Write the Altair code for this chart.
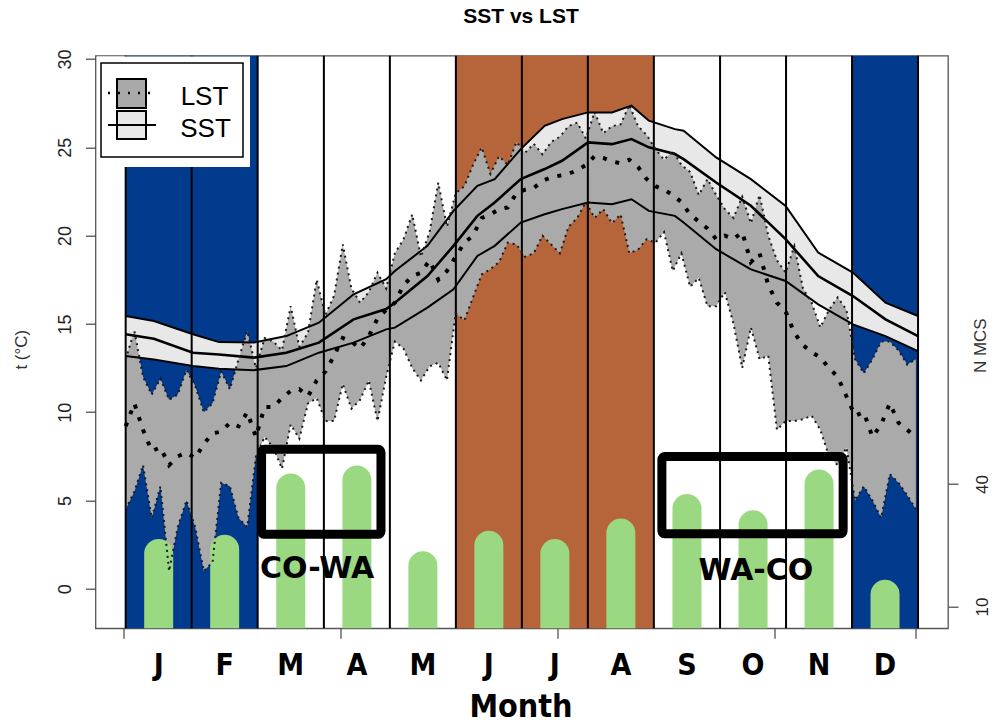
import altair as alt
import pandas as pd

# ---------------- data ----------------
month_labels = ["J", "F", "M", "A", "M", "J", "J", "A", "S", "O", "N", "D"]
month_edges = [1, 31.4, 61.8, 92.3, 122.7, 153.1, 183.5, 213.9, 244.3, 274.8, 305.2, 335.6, 366]
month_season = ["winter", "winter", "", "", "", "summer", "summer", "summer", "", "", "", "winter"]
n_mcs = [23, 24, 39, 41, 20, 25, 23, 28, 34, 30, 40, 13]

lst_day = list(range(1, 366, 4))
lst_upper = [13.0, 14.6, 12.0, 11.0, 11.9, 10.7, 11.0, 12.4, 11.5, 10.0,
             10.5, 12.3, 11.3, 13.0, 14.6, 12.5, 14.2, 14.0, 13.5, 16.0,
             13.7, 14.5, 17.5, 15.5, 16.6, 19.5, 17.0, 16.2, 16.8, 17.9,
             17.0, 19.0, 19.8, 21.2, 18.8, 20.2, 23.0, 20.5, 22.4, 22.8,
             24.0, 25.0, 23.5, 24.5, 24.0, 25.3, 24.7, 25.2, 24.6, 25.3,
             25.6, 26.2, 26.4, 25.5, 27.0, 25.8, 26.2, 26.3, 27.4, 26.2,
             25.7, 24.9, 24.3, 24.8, 24.0, 23.6, 22.3, 23.2, 22.3, 21.5,
             21.0, 22.2, 20.7, 22.3, 20.0, 18.6, 17.9, 19.4, 17.0, 16.2,
             14.8, 15.8, 16.5, 15.8, 13.0, 12.2, 13.0, 14.0, 14.0, 13.5,
             12.7, 13.0]
lst_mean = [9.2, 10.5, 9.0, 7.8, 8.0, 7.0, 7.5, 7.7, 7.4, 8.2,
            8.8, 8.9, 9.4, 9.2, 10.0, 8.6, 10.3, 10.3, 10.8, 11.2,
            11.3, 10.9, 11.8, 12.3, 13.2, 14.2, 14.0, 13.6, 14.3, 15.3,
            15.8, 16.2, 17.2, 17.7, 17.9, 18.6, 17.5, 18.0, 18.8, 19.6,
            20.0, 21.0, 21.2, 21.5, 21.6, 22.4, 22.6, 22.7, 23.1, 23.3,
            23.4, 23.5, 23.7, 24.0, 24.5, 24.4, 24.2, 24.1, 24.3, 23.9,
            23.2, 22.8, 22.6, 22.3, 21.9, 21.2, 20.8, 20.4, 19.8, 20.0,
            19.8, 20.2, 18.5, 19.0, 17.2, 16.2, 15.7, 14.5, 13.8, 13.4,
            13.1, 12.5, 12.0, 10.9, 9.8, 10.0, 8.6, 9.3, 10.5, 9.4,
            9.0, 8.6]
lst_lower = [4.5, 5.5, 7.0, 4.0, 5.8, 1.0, 3.5, 5.0, 3.5, 1.0,
             1.5, 6.0, 5.8, 4.0, 3.5, 7.5, 8.6, 8.0, 6.8, 9.3,
             8.5, 10.5, 10.8, 9.5, 9.5, 11.6, 10.2, 10.7, 11.8, 9.5,
             12.0, 14.0, 13.6, 12.5, 11.8, 12.6, 12.8, 11.8, 15.6, 15.2,
             16.5, 17.8, 18.1, 18.5, 19.6, 19.5, 18.8, 19.0, 20.0, 19.5,
             19.0, 20.5, 21.0, 21.9, 21.0, 21.5, 20.7, 21.2, 19.0, 19.2,
             19.8, 19.6, 20.2, 18.0, 19.0, 17.1, 17.6, 16.0, 16.0, 16.8,
             15.0, 12.5, 14.8, 13.0, 13.2, 9.0, 9.5, 9.5, 9.6, 9.8,
             9.0, 7.5, 7.0, 8.0, 5.0, 5.8, 5.0, 4.0, 6.5, 6.0,
             5.3, 4.5]

sst_day = [1, 14, 32, 44, 60, 75, 90, 106, 121, 125, 140, 152, 163, 171, 183,
           194, 202, 214, 225, 234, 242, 254, 258, 273, 289, 305, 320, 336, 351, 366]
sst_upper = [15.45, 15.16, 14.41, 13.97, 13.94, 14.31, 15.07, 16.68, 17.53, 18.0,
             19.42, 21.4, 22.82, 23.2, 24.9, 26.22, 26.6, 26.98, 26.98, 27.36,
             26.51, 26.03, 25.94, 24.43, 23.2, 21.68, 19.04, 17.91, 16.2, 15.45]
sst_mean = [14.41, 14.16, 13.37, 13.27, 13.09, 13.37, 13.94, 15.26, 15.84, 16.2,
            17.71, 19.42, 21.12, 21.88, 23.2, 23.77, 24.24, 25.28, 25.18, 25.47,
            25.0, 24.62, 24.33, 23.01, 21.69, 19.8, 17.71, 16.58, 15.26, 14.31]
sst_lower = [13.18, 12.99, 12.61, 12.46, 12.38, 12.61, 13.37, 13.94, 14.69, 14.79,
             15.92, 16.96, 18.85, 19.42, 20.74, 21.21, 21.5, 21.88, 21.78, 22.06,
             21.4, 21.12, 20.74, 19.23, 18.09, 17.43, 16.11, 14.97, 14.31, 13.46]

box_label = ["CO-WA", "WA-CO"]
box_day_start = [63.6, 248.0]
box_day_end = [118.6, 331.5]
box_t_low = [3.08, 3.11]
box_t_high = [7.9, 7.49]
box_text_day = [89.2, 291.3]
box_text_t = [0.61, 0.51]

# ---------------- styles ----------------
BLUE = "#023a8e"
BROWN = "#b6643a"
GREEN = "#9ad982"
LIGHT = "#e8e8e8"
GRAY = "#aaaaaa"

months = pd.DataFrame({
    "label": month_labels,
    "start": month_edges[:-1],
    "end": month_edges[1:],
    "season": month_season,
    "n": n_mcs,
})
months["mid"] = (months["start"] + months["end"]) / 2
bands = months[months["season"] != ""]
edges = pd.DataFrame({"day": month_edges})
lst = pd.DataFrame({"day": lst_day, "up": lst_upper, "mean": lst_mean, "lo": lst_lower})
sst = pd.DataFrame({"day": sst_day, "up": sst_upper, "mean": sst_mean, "lo": sst_lower})
boxes = pd.DataFrame({"label": box_label, "x1": box_day_start, "x2": box_day_end,
                      "t1": box_t_low, "t2": box_t_high,
                      "tx": box_text_day, "ty": box_text_t})

xs = alt.Scale(domain=[-12.9, 379.8], nice=False, zero=False)
ts = alt.Scale(domain=[-2.24, 30.19], nice=False, zero=False)
ns = alt.Scale(domain=[4.66, 144.9], nice=False, zero=False)

left_axis = alt.Axis(orient="left", values=[0, 5, 10, 15, 20, 25, 30], labelAngle=270,
                     labelAlign="center", labelBaseline="bottom", labelPadding=11, tickSize=10,
                     tickColor="#444", tickWidth=1.2, domain=False, grid=False, labelFontSize=18,
                     labelFont="Liberation Sans", labelColor="#222", title=None)
right_axis = alt.Axis(orient="right", values=[10, 40], labelAngle=270, labelAlign="center",
                      labelBaseline="top", labelPadding=16, tickSize=10, tickColor="#444",
                      tickWidth=1.2, domain=False, grid=False, labelFontSize=17,
                      labelFont="Liberation Sans", labelColor="#222", title=None)
bottom_axis = alt.Axis(orient="bottom", values=[0, 100, 200, 300, 365], labels=False, tickSize=10,
                       tickColor="#444", tickWidth=1.2, domain=False, grid=False, title=None)

def X(field):
    return alt.X(field, scale=xs, axis=bottom_axis)

def T(field, axis=None):
    return alt.Y(field, scale=ts, axis=axis)

# ----- back group: bands and filled envelopes -----
band_layer = alt.Chart(bands).mark_rect().encode(
    x=X("start:Q"), x2="end:Q",
    color=alt.Color("season:N", scale=alt.Scale(domain=["winter", "summer"], range=[BLUE, BROWN]),
                    legend=None))
sst_area = alt.Chart(sst).mark_area(color=LIGHT).encode(
    x=X("day:Q"), y=T("up:Q", left_axis), y2="lo:Q")
lst_area = alt.Chart(lst).mark_area(color=GRAY).encode(
    x=X("day:Q"), y=T("up:Q", left_axis), y2="lo:Q")
back = alt.layer(band_layer, sst_area, lst_area)

# ----- bars (N MCS, right axis) -----
bars = alt.Chart(months).mark_rule(strokeWidth=29, strokeCap="round", color=GREEN, clip=True).encode(
    x=X("mid:Q"), y=alt.Y("n:Q", scale=ns, axis=right_axis), y2=alt.datum(0))

# ----- front group -----
vlines = alt.Chart(edges).mark_rule(color="black", strokeWidth=2).encode(x=X("day:Q"))
sst_up_line = alt.Chart(sst).mark_line(color="black", strokeWidth=2).encode(x=X("day:Q"), y=T("up:Q"))
sst_lo_line = alt.Chart(sst).mark_line(color="black", strokeWidth=2).encode(x=X("day:Q"), y=T("lo:Q"))
sst_mean_line = alt.Chart(sst).mark_line(color="black", strokeWidth=2.6).encode(x=X("day:Q"), y=T("mean:Q"))
lst_up_line = alt.Chart(lst).mark_line(color="#1a1a1a", strokeWidth=2, strokeDash=[2, 4]).encode(
    x=X("day:Q"), y=T("up:Q"))
lst_lo_line = alt.Chart(lst).mark_line(color="#1a1a1a", strokeWidth=2, strokeDash=[2, 4]).encode(
    x=X("day:Q"), y=T("lo:Q"))
lst_mean_line = alt.Chart(lst).mark_line(color="black", strokeWidth=4, strokeDash=[4, 9]).encode(
    x=X("day:Q"), y=T("mean:Q"))
box_layer = alt.Chart(boxes).mark_rect(fillOpacity=0, stroke="black", strokeWidth=9, cornerRadius=3).encode(
    x=X("x1:Q"), x2="x2:Q", y=T("t1:Q"), y2="t2:Q")
box_text = alt.Chart(boxes).mark_text(font="DejaVu Sans", fontWeight="bold", fontSize=30,
                                      baseline="alphabetic", color="black").encode(
    x=X("tx:Q"), y=T("ty:Q"), text="label:N")
month_text = alt.Chart(months).mark_text(font="DejaVu Sans Condensed", fontWeight="bold", fontSize=30,
                                         baseline="alphabetic", color="black").encode(
    x=X("mid:Q"), y=alt.value(619), text="label:N")

def label(txt, x, y, size, weight="normal", angle=0, font="Liberation Sans", color="black",
          baseline="alphabetic"):
    return alt.Chart(pd.DataFrame({"t": [txt]})).mark_text(
        font=font, fontSize=size, fontWeight=weight, angle=angle, color=color,
        baseline=baseline, align="center").encode(text="t:N", x=alt.value(x), y=alt.value(y))

title = label("SST vs LST", 425.5, -33, 21, "bold")
xtitle = label("Month", 425.5, 661, 32, "bold", font="DejaVu Sans Condensed")
ytitle = label("t (°C)", -73.5, 294, 17, angle=270, color="#333", baseline="middle")
rtitle = label("N MCS", 885.5, 290, 17, angle=270, color="#333", baseline="middle")

dummy = pd.DataFrame({"k": [0]})
def prect(x1, x2, y1, y2, **kw):
    return alt.Chart(dummy).mark_rect(**kw).encode(
        x=alt.value(x1), x2=alt.value(x2), y=alt.value(y1), y2=alt.value(y2))

def pline(x1, x2, y, **kw):
    return alt.Chart(dummy).mark_rule(**kw).encode(
        x=alt.value(x1), x2=alt.value(x2), y=alt.value(y))

leg = [
    prect(1.5, 154.5, 0.8, 111.3, color="white"),
    prect(5.5, 147.5, 7.3, 101.3, fill="white", stroke="black", strokeWidth=1.5),
    prect(21.5, 50.5, 23.3, 52.3, fill="#a9a9a9", stroke="black", strokeWidth=2),
    pline(12.5, 59.5, 37.3, color="black", strokeWidth=2.5, strokeDash=[2, 8]),
    prect(21.5, 50.5, 55.3, 83.3, fill=LIGHT, stroke="black", strokeWidth=2),
    pline(12.5, 60.5, 69.3, color="black", strokeWidth=2),
    label("LST", 109, 49.3, 26),
    label("SST", 110, 81, 26),
]

front = alt.layer(vlines, sst_up_line, sst_lo_line, sst_mean_line,
                  lst_up_line, lst_lo_line, lst_mean_line,
                  box_layer, box_text, month_text,
                  title, xtitle, ytitle, rtitle, *leg)

chart = alt.layer(back, bars, front).resolve_scale(y="independent").properties(
    width=852.5, height=572.6,
    padding={"left": 95.5, "top": 55.7, "right": 44, "bottom": 96.7},
    autosize=alt.AutoSizeParams(type="none"),
    background="white",
).configure_view(stroke="#555", strokeWidth=1.3)

chart.save("out.html", embed_options={"renderer": "svg", "actions": False})
